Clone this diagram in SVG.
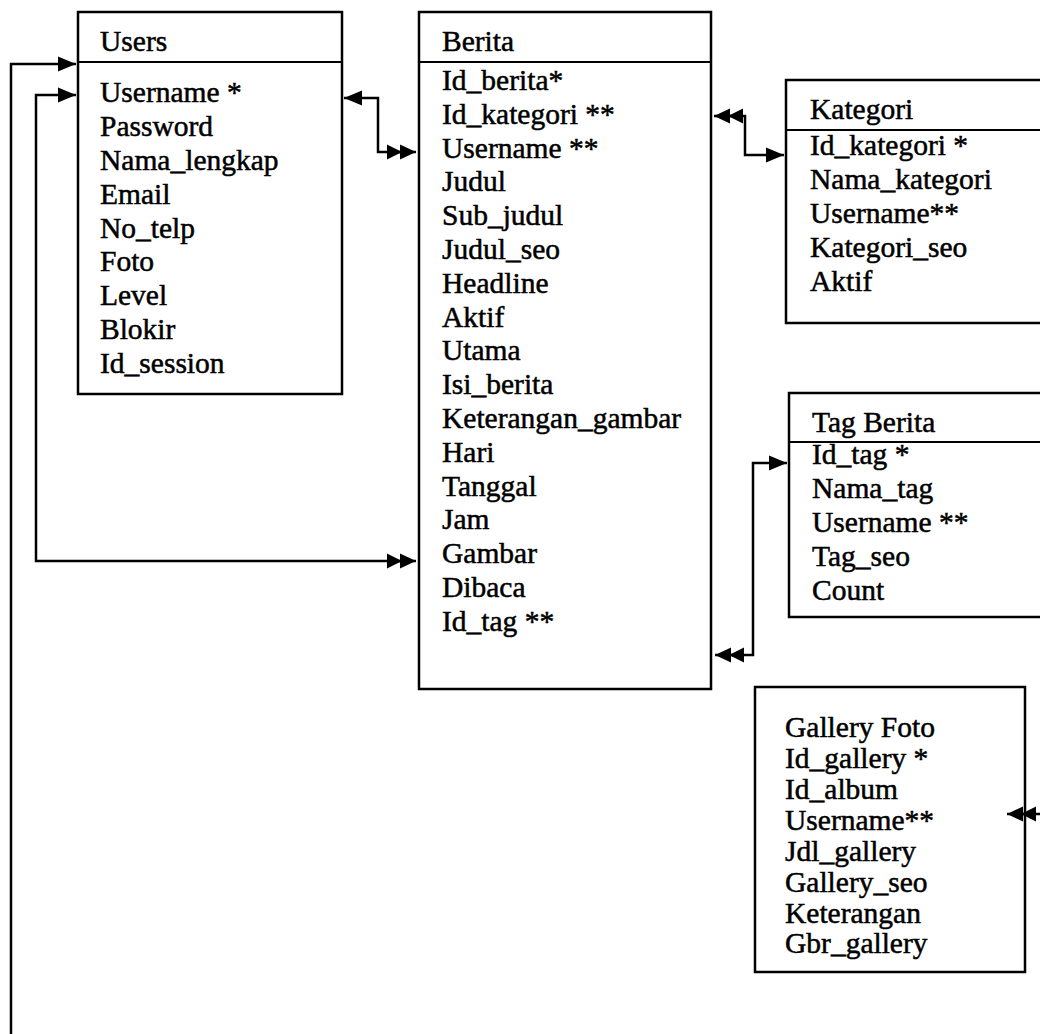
<svg xmlns="http://www.w3.org/2000/svg" width="1040" height="1034" viewBox="0 0 1040 1034">
<style>
.box{fill:none;stroke:#000;stroke-width:2.5}
.sep{stroke:#000;stroke-width:2}
.t{font-family:"Liberation Serif","Times New Roman",serif;font-size:29.5px;fill:#000;stroke:#000;stroke-width:0.5}
.c{fill:none;stroke:#000;stroke-width:2.5}
</style>
<defs>
<marker id="a1" markerUnits="userSpaceOnUse" markerWidth="19" markerHeight="16" refX="18" refY="7.5" orient="auto-start-reverse" viewBox="0 0 19 15">
<path d="M0,0 L18,7.5 L0,15 z" fill="#000"/>
</marker>
<marker id="a2" markerUnits="userSpaceOnUse" markerWidth="30" markerHeight="16" refX="29" refY="7.5" orient="auto-start-reverse" viewBox="0 0 30 15">
<path d="M0,0 L15,7.5 L0,15 z M13,0 L29,7.5 L13,15 z" fill="#000"/>
</marker>
</defs>
<g id="connectors">
<path class="c" d="M11,1040 V64 H76" marker-end="url(#a1)"/>
<path class="c" d="M76,95 H36 V561 H416" marker-start="url(#a1)" marker-end="url(#a2)"/>
<path class="c" d="M344,98 H378 V152 H416" marker-start="url(#a1)" marker-end="url(#a2)"/>
<path class="c" d="M714,116 H745 V155 H784" marker-start="url(#a2)" marker-end="url(#a1)"/>
<path class="c" d="M787,463 H753 V655 H715" marker-start="url(#a1)" marker-end="url(#a2)"/>
<path class="c" d="M1045,814 H1007" marker-end="url(#a2)"/>
</g>
<g id="users">
<rect class="box" x="78" y="12" width="264" height="382"/>
<line class="sep" x1="78" y1="62" x2="342" y2="62"/>
<text class="t" x="100" y="51">Users</text>
<text class="t" x="100" y="102">Username *</text>
<text class="t" x="100" y="136">Password</text>
<text class="t" x="100" y="170">Nama_lengkap</text>
<text class="t" x="100" y="204">Email</text>
<text class="t" x="100" y="238">No_telp</text>
<text class="t" x="100" y="271">Foto</text>
<text class="t" x="100" y="305">Level</text>
<text class="t" x="100" y="339">Blokir</text>
<text class="t" x="100" y="373">Id_session</text>
</g>
<g id="berita">
<rect class="box" x="419" y="12" width="292" height="677"/>
<line class="sep" x1="419" y1="62" x2="711" y2="62"/>
<text class="t" x="442" y="51">Berita</text>
<text class="t" x="442" y="90">Id_berita*</text>
<text class="t" x="442" y="124">Id_kategori **</text>
<text class="t" x="442" y="158">Username **</text>
<text class="t" x="442" y="191">Judul</text>
<text class="t" x="442" y="225">Sub_judul</text>
<text class="t" x="442" y="259">Judul_seo</text>
<text class="t" x="442" y="293">Headline</text>
<text class="t" x="442" y="327">Aktif</text>
<text class="t" x="442" y="360">Utama</text>
<text class="t" x="442" y="394">Isi_berita</text>
<text class="t" x="442" y="428">Keterangan_gambar</text>
<text class="t" x="442" y="462">Hari</text>
<text class="t" x="442" y="496">Tanggal</text>
<text class="t" x="442" y="529">Jam</text>
<text class="t" x="442" y="563">Gambar</text>
<text class="t" x="442" y="597">Dibaca</text>
<text class="t" x="442" y="631">Id_tag **</text>
</g>
<g id="kategori">
<rect class="box" x="786" y="80" width="270" height="243"/>
<line class="sep" x1="786" y1="130" x2="1056" y2="130"/>
<text class="t" x="810" y="119">Kategori</text>
<text class="t" x="810" y="155">Id_kategori *</text>
<text class="t" x="810" y="189">Nama_kategori</text>
<text class="t" x="810" y="223">Username**</text>
<text class="t" x="810" y="257">Kategori_seo</text>
<text class="t" x="810" y="291">Aktif</text>
</g>
<g id="tag-berita">
<rect class="box" x="789" y="393" width="270" height="224"/>
<line class="sep" x1="789" y1="442" x2="1059" y2="442"/>
<text class="t" x="812" y="432">Tag Berita</text>
<text class="t" x="812" y="464">Id_tag *</text>
<text class="t" x="812" y="498">Nama_tag</text>
<text class="t" x="812" y="532">Username **</text>
<text class="t" x="812" y="566">Tag_seo</text>
<text class="t" x="812" y="600">Count</text>
</g>
<g id="gallery-foto">
<rect class="box" x="755" y="687" width="270" height="285"/>
<text class="t" x="785" y="737">Gallery Foto</text>
<text class="t" x="785" y="768">Id_gallery *</text>
<text class="t" x="785" y="799">Id_album</text>
<text class="t" x="785" y="830">Username**</text>
<text class="t" x="785" y="861">Jdl_gallery</text>
<text class="t" x="785" y="892">Gallery_seo</text>
<text class="t" x="785" y="923">Keterangan</text>
<text class="t" x="785" y="953">Gbr_gallery</text>
</g>
</svg>
